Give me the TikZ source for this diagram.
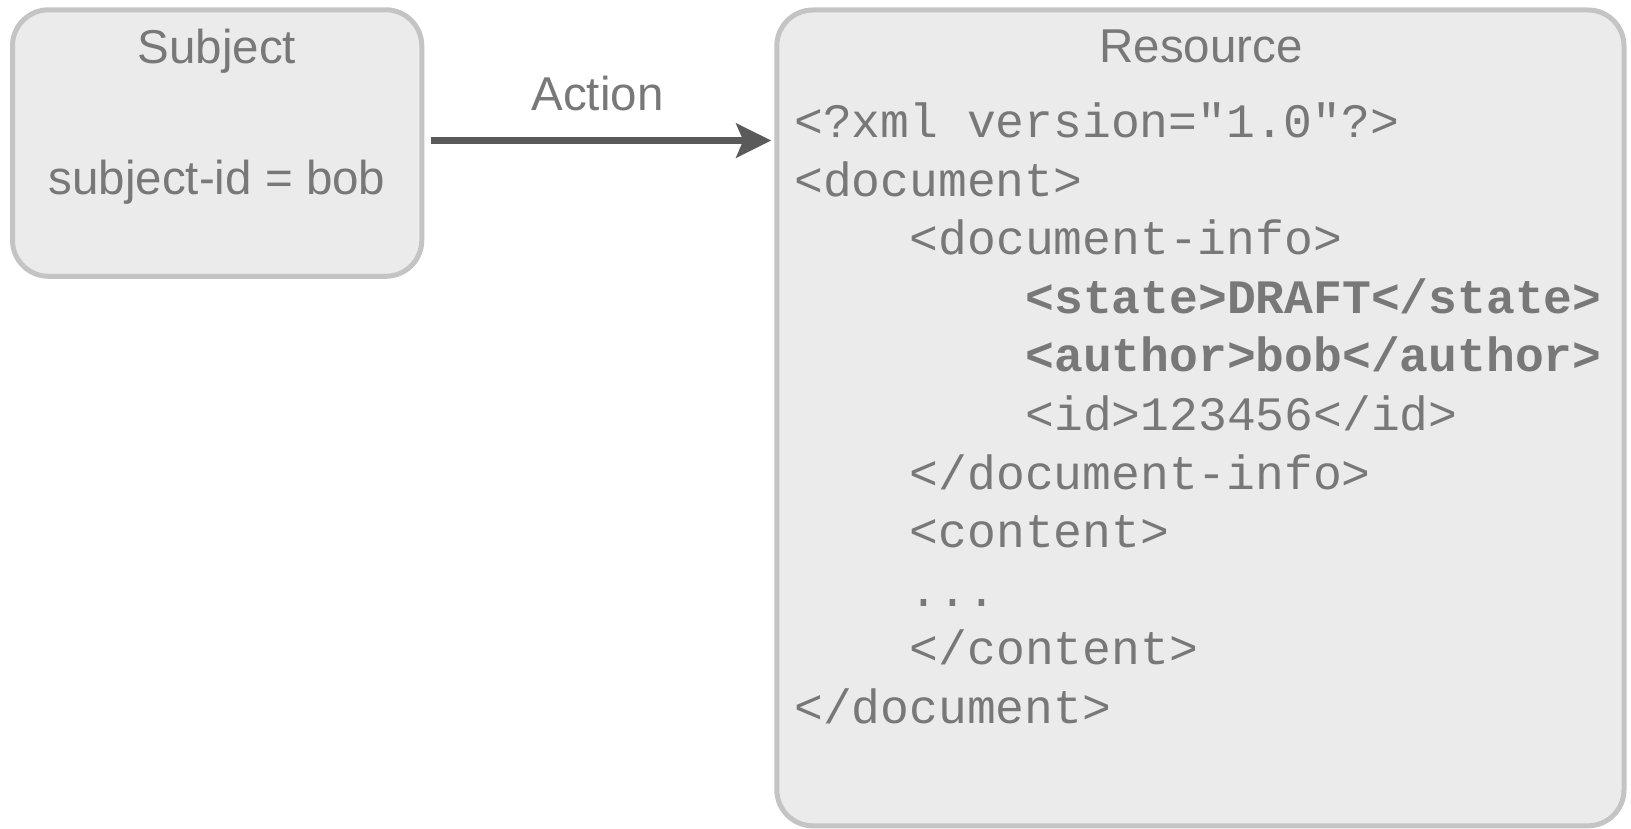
\documentclass[tikz,border=0pt]{standalone}
\usepackage{fontspec}
\setmainfont{Liberation Sans}
\newfontfamily\codefont{Liberation Mono}
\usetikzlibrary{arrows.meta}
\definecolor{boxfill}{HTML}{EBEBEB}
\definecolor{boxline}{HTML}{C4C4C4}
\definecolor{txtgray}{HTML}{787878}
\definecolor{arrgray}{HTML}{5A5A5A}
\tikzset{
  roundbox/.style={draw=boxline, fill=boxfill, line width=5pt, rounded corners=36pt, inner sep=0pt},
  lbl/.style={text=txtgray, font=\fontsize{47.5}{50}\selectfont, anchor=base, inner sep=0pt},
  codeline/.style={text=txtgray, font=\codefont\fontsize{48}{50}\selectfont, anchor=base west, inner sep=0pt},
  boldline/.style={codeline, font=\codefont\bfseries\fontsize{48}{50}\selectfont},
  actarrow/.style={draw=arrgray, line width=7.6pt, -{Stealth[length=35pt, width=34pt, inset=7pt]}}
}
\begin{document}
\begin{tikzpicture}[x=1pt,y=1pt]
\useasboundingbox (0,0) rectangle (1631,-829);
\node[roundbox, minimum width=409.3pt, minimum height=266.5pt] (subj) at (217.15,-143.05) {};
\node[roundbox, minimum width=847.2pt, minimum height=815.8pt] (res) at (1200.4,-417.9) {};
\node[lbl] (subjtitle) at (217,-63.3) {Subject};
\node[lbl] (subjid) at (217,-194.3) {subject-id = bob};
\node[lbl] (restitle) at (1201,-62.3) {Resource};
\node[lbl] (action) at (597.5,-110.3) {Action};
\coordinate (astart) at ([xshift=7pt,yshift=2.5pt]subj.east);
\draw[actarrow] (astart) -- ([xshift=-3pt]res.west |- astart);
\node[codeline] (l1) at (794,-137.5) {<?xml version="1.0"?>};
\node[codeline] (l2) at (794,-196.1) {<document>};
\node[codeline] (l3) at (909.6,-254.7) {<document-info>};
\node[boldline] (l4) at (1025.2,-313.3) {<state>DRAFT</state>};
\node[boldline] (l5) at (1025.2,-371.9) {<author>bob</author>};
\node[codeline] (l6) at (1025.2,-430.5) {<id>123456</id>};
\node[codeline] (l7) at (909.6,-489.1) {</document-info>};
\node[codeline] (l8) at (909.6,-547.7) {<content>};
\node[codeline] (l9) at (909.6,-606.3) {...};
\node[codeline] (l10) at (909.6,-664.9) {</content>};
\node[codeline] (l11) at (794,-723.5) {</document>};
\end{tikzpicture}
\end{document}
